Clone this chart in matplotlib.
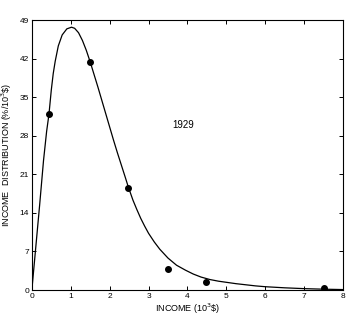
import matplotlib
matplotlib.use("Agg")
from matplotlib import pyplot as plt

# measured points (income in 10^3 $, distribution in %/10^3 $)
income_pts = [0.45, 1.5, 2.48, 3.5, 4.49, 7.5]
dist_pts = [31.9, 41.4, 18.5, 3.9, 1.5, 0.4]

# fitted curve
curve_x = [0.0, 0.1, 0.2, 0.3, 0.38, 0.44, 0.5, 0.55, 0.6, 0.68, 0.78, 0.9,
           1.02, 1.1, 1.2, 1.3, 1.4, 1.5, 1.6, 1.7, 1.8, 1.9, 2.0, 2.1,
           2.2, 2.3, 2.4, 2.48, 2.6, 2.7, 2.8, 2.9, 3.0, 3.15, 3.29, 3.5,
           3.72, 3.95, 4.15, 4.35, 4.58, 4.8, 5.0, 5.25, 5.5, 5.75, 6.0,
           6.5, 7.0, 7.5, 8.0]
curve_y = [0.0, 7.7, 15.4, 23.5, 28.8, 31.9, 36.3, 39.3, 41.5, 44.3, 46.3, 47.4,
           47.7, 47.5, 46.7, 45.3, 43.5, 41.4, 39.1, 36.8, 34.4, 32.0, 29.6, 27.2,
           24.9, 22.7, 20.5, 18.7, 16.3, 14.6, 13.0, 11.6, 10.3, 8.7, 7.4, 5.8,
           4.5, 3.6, 2.9, 2.35, 1.9, 1.6, 1.4, 1.15, 0.95, 0.75, 0.6,
           0.4, 0.25, 0.15, 0.08]

x_ticks = [0, 1, 2, 3, 4, 5, 6, 7, 8]
y_ticks = [0, 7, 14, 21, 28, 35, 42, 49]

plt.rcParams['font.family'] = ['Liberation Sans', 'DejaVu Sans']
fig = plt.figure(figsize=(3.5, 3.18), dpi=100)
ax = fig.add_axes([0.091, 0.088, 0.889, 0.849])

ax.plot(curve_x, curve_y, color='black', lw=0.9)
ax.plot(income_pts, dist_pts, 'o', color='black', ms=4)
ax.text(3.9, 30, '1929', fontsize=7, ha='center', va='center')

ax.set_xlim(0, 8)
ax.set_ylim(0, 49)
ax.set_xticks(x_ticks)
ax.set_yticks(y_ticks)
ax.tick_params(direction='in', length=3, width=0.7, labelsize=6,
               top=True, right=True, pad=2)
for s in ax.spines.values():
    s.set_linewidth(0.8)
ax.set_xlabel('INCOME (10$^3$\\$)', fontsize=6.5, labelpad=1)
ax.set_ylabel('INCOME  DISTRIBUTION (%/10$^3$\\$)', fontsize=6.5, labelpad=4)

fig.savefig('out.png', dpi=100)
plt.close(fig)
